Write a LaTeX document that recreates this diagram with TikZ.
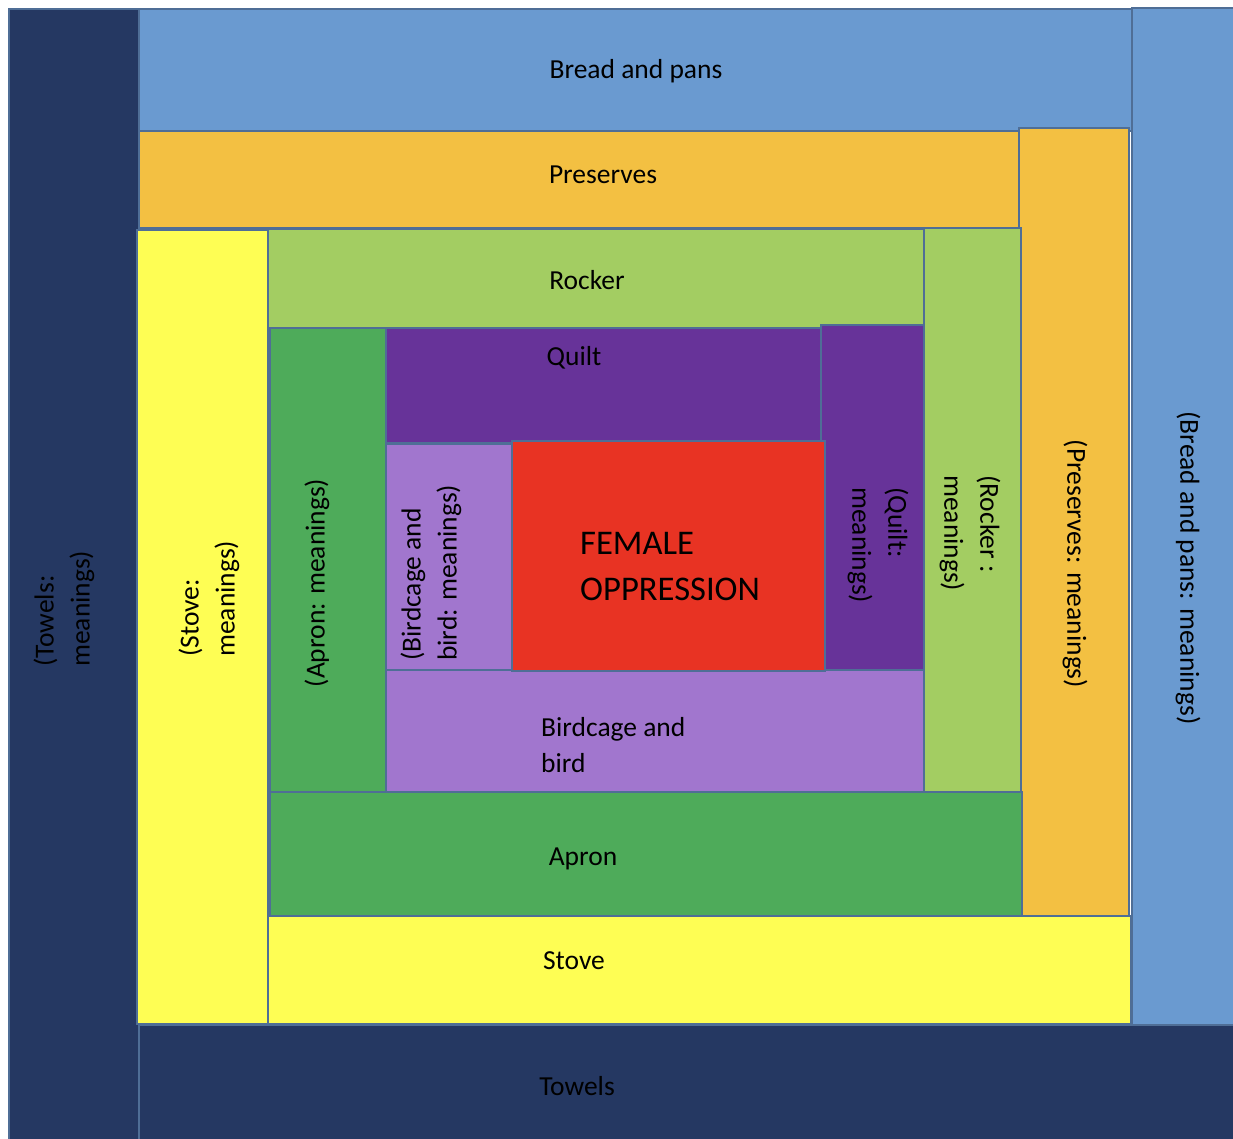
\documentclass[tikz,border=0pt]{standalone}
\usepackage{fontspec}
\setmainfont{Carlito}
\definecolor{navy}{RGB}{37,56,98}
\definecolor{breadblue}{RGB}{106,154,208}
\definecolor{preserveorange}{RGB}{243,192,66}
\definecolor{stoveyellow}{RGB}{254,254,84}
\definecolor{rockergreen}{RGB}{163,205,98}
\definecolor{aprongreen}{RGB}{78,171,90}
\definecolor{quiltpurple}{RGB}{103,51,153}
\definecolor{birdlav}{RGB}{161,118,206}
\definecolor{oppred}{RGB}{232,51,35}
\definecolor{edgeblue}{RGB}{79,110,150}
\begin{document}
\begin{tikzpicture}[x=1pt,y=-1pt,
  blockbox/.style={draw=edgeblue,line width=1.6pt},
  lbl/.style={inner sep=0pt,text=black,font=\fontsize{27.5}{36}\selectfont},
  biglbl/.style={inner sep=0pt,text=black,font=\fontsize{34.6}{46}\selectfont}]
\useasboundingbox (0,0) rectangle (1233,1139);
\fill[white] (0,0) rectangle (1233,1139);
% outermost
\path[blockbox,fill=navy] (9,9) rectangle (139,1145);
\path[blockbox,fill=breadblue] (139,9) rectangle (1132,131);
\path[blockbox,fill=breadblue] (1132,8) rectangle (1240,1025);
\path[blockbox,fill=navy] (139,1025) rectangle (1240,1145);
% preserves / stove
\path[blockbox,fill=preserveorange] (139,131) rectangle (1019,228);
\path[blockbox,fill=preserveorange] (1019,128) rectangle (1129,916);
\path[blockbox,fill=stoveyellow] (137,230) rectangle (268,1024);
\path[blockbox,fill=stoveyellow] (268,916) rectangle (1131,1024);
% rocker / apron
\path[blockbox,fill=rockergreen] (268,229) rectangle (924,328);
\path[blockbox,fill=rockergreen] (924,228) rectangle (1021,792);
\path[blockbox,fill=aprongreen] (270,328) rectangle (386,792);
\path[blockbox,fill=aprongreen] (270,792) rectangle (1022,916);
% quilt / birdcage
\path[blockbox,fill=quiltpurple] (386,328) rectangle (821,443);
\path[blockbox,fill=quiltpurple] (821,325) rectangle (924,670);
\path[blockbox,fill=birdlav] (386,444) rectangle (512,670);
\path[blockbox,fill=birdlav] (386,670) rectangle (924,792);
% centre
\path[blockbox,fill=oppred] (512,441) rectangle (825,671);
% labels
\node[lbl] (bread) at (636,71) {Bread and pans};
\node[lbl] (pres) at (603,175) {Preserves};
\node[lbl] (rock) at (587,280) {Rocker};
\node[lbl] (quilt) at (574,358) {Quilt};
\node[biglbl,align=left,anchor=west] (fem) at (580,567) {FEMALE\\OPPRESSION};
\node[lbl,align=left,anchor=west] (bird) at (541,745) {Birdcage and\\bird};
\node[lbl] (apron) at (583,859) {Apron};
\node[lbl] (stove) at (574,961) {Stove};
\node[lbl] (towels) at (577,1086) {Towels};
\node[lbl,rotate=90,align=left,anchor=west] (towm) at (64,667) {(Towels:\\meanings)};
\node[lbl,rotate=90,align=left,anchor=west] (stom) at (209,657) {(Stove:\\meanings)};
\node[lbl,rotate=90] (aprm) at (317,583) {(Apron: meanings)};
\node[lbl,rotate=90,align=left,anchor=west] (birm) at (431,661) {(Birdcage and\\bird: meanings)};
\node[lbl,rotate=-90,align=left,anchor=west] (quim) at (878,487) {(Quilt:\\meanings)};
\node[lbl,rotate=-90,align=left,anchor=west] (rocm) at (970,475) {(Rocker :\\meanings)};
\node[lbl,rotate=-90] (prem) at (1075,564) {(Preserves: meanings)};
\node[lbl,rotate=-90] (brem) at (1188,568) {(Bread and pans: meanings)};
\end{tikzpicture}
\end{document}
